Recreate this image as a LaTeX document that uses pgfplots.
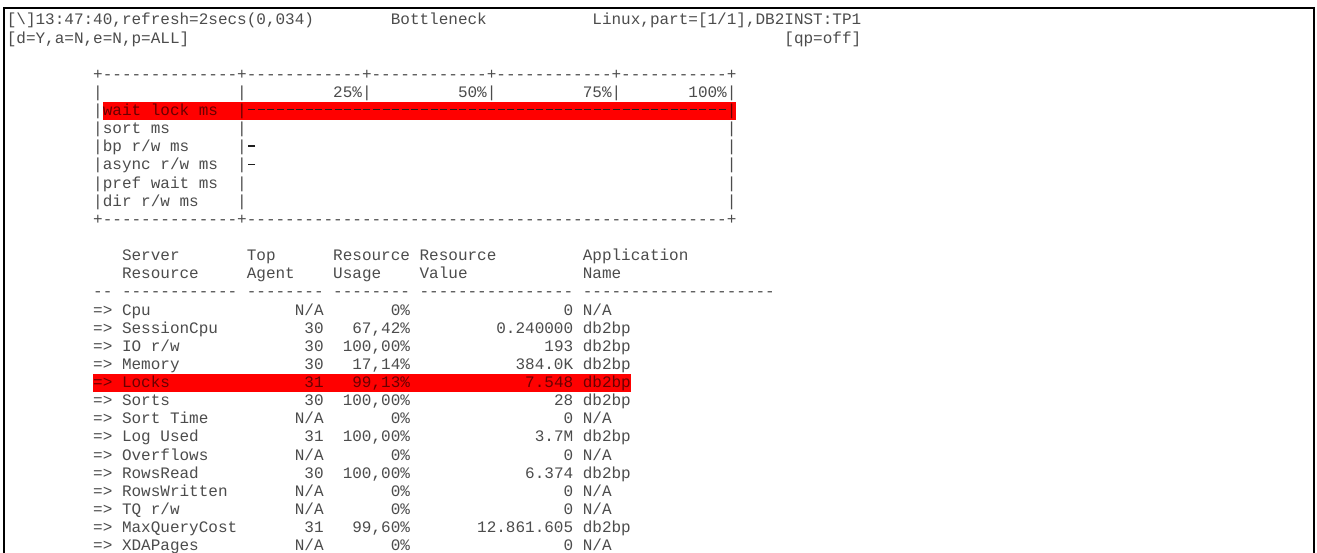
\documentclass[border=0pt]{standalone}
\usepackage{fontspec}
\setmonofont{Liberation Mono}
\usepackage{pgfplots}
\pgfplotsset{compat=1.18}
\definecolor{txt}{gray}{0.30}
\definecolor{bartxt}{gray}{0.12}
\definecolor{hl}{RGB}{255,0,0}
\definecolor{hltxt}{RGB}{105,0,0}
% column / line grid of the terminal: 9.6 px per character, 18.125 px per line
\newcommand{\T}[3]{\node[anchor=base west] at ({6.8+#1*9.6},{25.0+#2*18.125}) {#3};}
\newcommand{\R}[3]{\node[anchor=base east] at ({6.8+#1*9.6},{25.0+#2*18.125}) {#3};}
\newcommand{\Row}[6]{\T{9}{#1}{=>}\T{12}{#1}{#2}\R{33}{#1}{#3}\R{42}{#1}{#4}\R{59}{#1}{#5}\T{60}{#1}{#6}}
\begin{document}
\begin{tikzpicture}[x=1bp,y=-1bp,
  every node/.style={inner sep=0pt,outer sep=0pt,font=\ttfamily\fontsize{16bp}{18.125bp}\selectfont,text=txt}]
\useasboundingbox (0,0) rectangle (1317,553);
\fill[white] (0,0) rectangle (1317,553);
\draw[line width=2.3bp] (4.3,554) -- (4.3,7.8) -- (1313.7,7.8) -- (1313.7,554);
% row highlights
\fill[hl] ({6.8+10*9.6},{11.7+5*18.125}) rectangle ({6.8+76*9.6},{11.7+6*18.125});
\fill[hl] ({6.8+9*9.6},{11.7+20*18.125}) rectangle ({6.8+65*9.6},{11.7+21*18.125});
% header
\T{0}{0}{[\textbackslash]13:47:40,refresh=2secs(0,034)}
\T{40}{0}{Bottleneck}
\T{61}{0}{Linux,part=[1/1],DB2INST:TP1}
\T{0}{1}{[d=Y,a=N,e=N,p=ALL]}
\T{81}{1}{[qp=off]}
% bottleneck box
\T{9}{3}{+--------------+------------+------------+------------+-----------+}
\T{9}{4}{|}\T{24}{4}{|}\T{34}{4}{25\%|}\T{47}{4}{50\%|}\T{60}{4}{75\%|}\T{71}{4}{100\%|}
\T{9}{5}{|}
\begin{scope}[every node/.append style={text=hltxt}]
\T{10}{5}{wait lock ms}\T{24}{5}{|}\T{75}{5}{|}
\end{scope}
\T{9}{6}{|}\T{10}{6}{sort ms}\T{24}{6}{|}\T{75}{6}{|}
\T{9}{7}{|}\T{10}{7}{bp r/w ms}\T{24}{7}{|}\T{75}{7}{|}
\T{9}{8}{|}\T{10}{8}{async r/w ms}\T{24}{8}{|}\T{75}{8}{|}
\T{9}{9}{|}\T{10}{9}{pref wait ms}\T{24}{9}{|}\T{75}{9}{|}
\T{9}{10}{|}\T{10}{10}{dir r/w ms}\T{24}{10}{|}\T{75}{10}{|}
\T{9}{11}{+--------------+--------------------------------------------------+}
\begin{axis}[at={(246.8bp,-209.4bp)},anchor=south west,width=480bp,height=108.75bp,
  scale only axis,xmin=0,xmax=100,ymin=0.5,ymax=6.5,hide axis,clip=false]
\addplot[xbar,bar width=0pt,fill=none,draw=bartxt,line width=1.1bp,
  dash pattern=on 7bp off 2.6bp,dash phase=8.3bp,mark=none]
  coordinates {(100,6) (0,5) (2,4) (2,3) (0,2) (0,1)};
\end{axis}
% resource table
\T{12}{13}{Server}\T{25}{13}{Top}\T{34}{13}{Resource}\T{43}{13}{Resource}\T{60}{13}{Application}
\T{12}{14}{Resource}\T{25}{14}{Agent}\T{34}{14}{Usage}\T{43}{14}{Value}\T{60}{14}{Name}
\T{9}{15}{-- ------------ -------- -------- ---------------- --------------------}
\Row{16}{Cpu}{N/A}{0\%}{0}{N/A}
\Row{17}{SessionCpu}{30}{67,42\%}{0.240000}{db2bp}
\Row{18}{IO r/w}{30}{100,00\%}{193}{db2bp}
\Row{19}{Memory}{30}{17,14\%}{384.0K}{db2bp}
\begin{scope}[every node/.append style={text=hltxt}]
\Row{20}{Locks}{31}{99,13\%}{7.548}{db2bp}
\end{scope}
\Row{21}{Sorts}{30}{100,00\%}{28}{db2bp}
\Row{22}{Sort Time}{N/A}{0\%}{0}{N/A}
\Row{23}{Log Used}{31}{100,00\%}{3.7M}{db2bp}
\Row{24}{Overflows}{N/A}{0\%}{0}{N/A}
\Row{25}{RowsRead}{30}{100,00\%}{6.374}{db2bp}
\Row{26}{RowsWritten}{N/A}{0\%}{0}{N/A}
\Row{27}{TQ r/w}{N/A}{0\%}{0}{N/A}
\Row{28}{MaxQueryCost}{31}{99,60\%}{12.861.605}{db2bp}
\Row{29}{XDAPages}{N/A}{0\%}{0}{N/A}
\end{tikzpicture}
\end{document}
